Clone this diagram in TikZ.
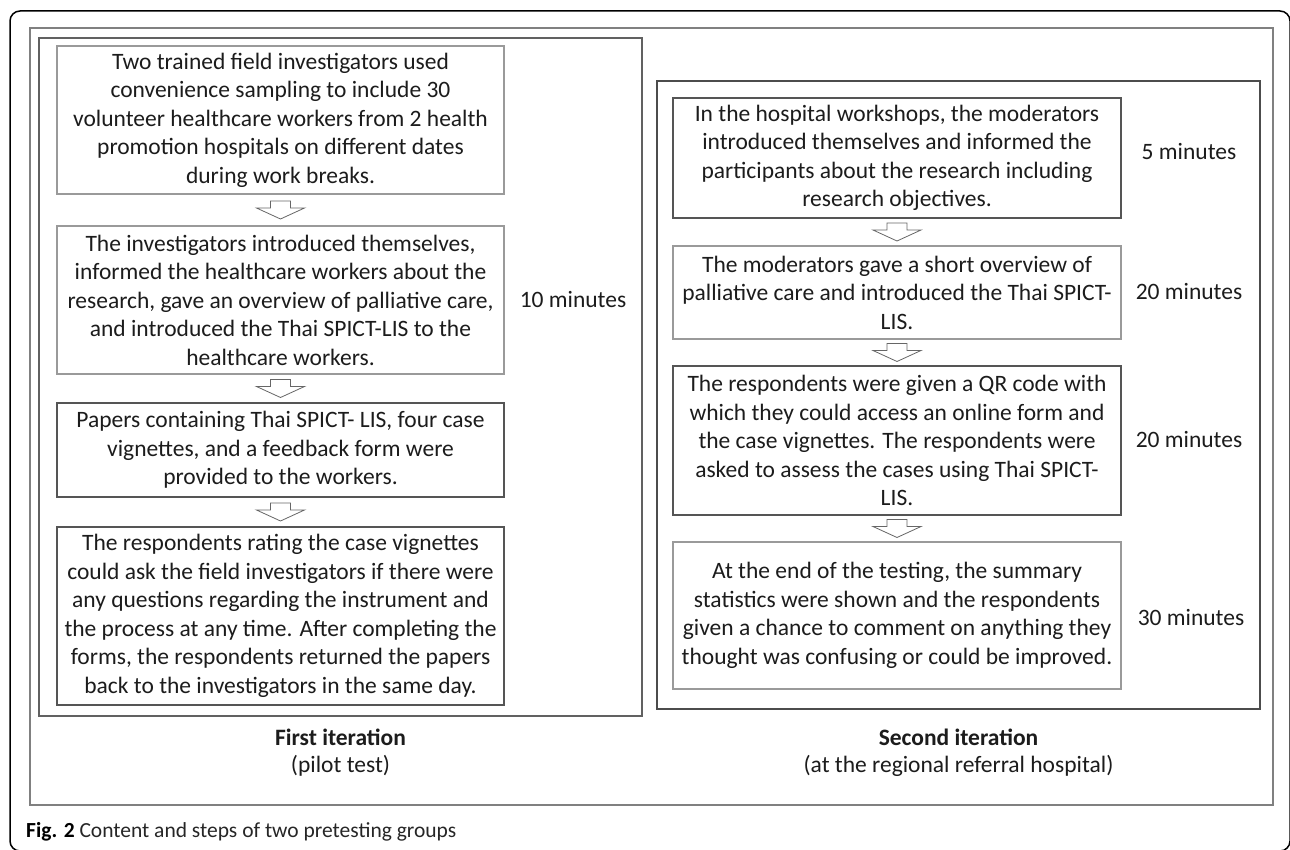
\documentclass[tikz,border=0pt]{standalone}
\usepackage{fontspec}
\setmainfont{Carlito}
\usetikzlibrary{calc}
\definecolor{txt}{HTML}{1C1C1C}
\definecolor{lightb}{HTML}{9A9A9A}
\definecolor{darkb}{HTML}{555555}
\newcommand{\blockdown}[3]{%
  \coordinate (#3) at ($(#1.south)!0.5!(#2.north)$);
  \draw[blockarrow] ($(#3)+(-10,-9)$) -- ($(#3)+(10,-9)$) -- ($(#3)+(10,-2)$) -- ($(#3)+(24,-2)$) -- ($(#3)+(0,9)$) -- ($(#3)+(-24,-2)$) -- ($(#3)+(-10,-2)$) -- cycle;}
\begin{document}
\begin{tikzpicture}[x=1pt,y=-1pt,
  stepbox/.style={draw=#1, line width=1.1pt, fill=white, align=center, inner sep=2pt,
    font=\fontsize{23.5}{28.5}\selectfont, text=txt},
  stepbox/.default=lightb,
  lbox/.style={stepbox=#1, minimum width=447pt},
  rbox/.style={stepbox=#1, minimum width=448pt},
  blockarrow/.style={draw=black!60, line width=0.8pt, fill=white},
  minutes/.style={font=\fontsize{23.5}{28.5}\selectfont, text=txt, inner sep=0pt},
  iterlab/.style={font=\fontsize{23.5}{27}\selectfont, text=txt, align=center, inner sep=0pt},
  panel/.style={draw=#1, line width=1.1pt}]
\useasboundingbox (0,0) rectangle (1290,850);
\clip (0,0) rectangle (1290,850);
\fill[white] (0,0) rectangle (1290,850);
% outer frames
\draw[black, line width=1.5pt, rounded corners=10pt] (10,11) rectangle (1290,851);
\draw[black!50, line width=1.5pt] (30,28) rectangle (1273,805);
\draw[panel=black!62] (39,38) rectangle (642,716);
\draw[panel=black!70] (657,81) rectangle (1260,709);
% left column
\node[lbox=lightb, minimum height=148pt] (l1) at (280.5,120) {Two trained field investigators used\\convenience sampling to include 30\\volunteer healthcare workers from 2 health\\promotion hospitals on different dates\\during work breaks.};
\node[lbox=lightb, minimum height=148pt] (l2) at (280.5,300) {The investigators introduced themselves,\\informed the healthcare workers about the\\research, gave an overview of palliative care,\\and introduced the Thai SPICT-LIS to the\\healthcare workers.};
\node[lbox=darkb, minimum height=94pt] (l3) at (280.5,450) {Papers containing Thai SPICT- LIS, four case\\vignettes, and a feedback form were\\provided to the workers.};
\node[lbox=darkb, minimum height=178pt] (l4) at (280.5,616) {The respondents rating the case vignettes\\could ask the field investigators if there were\\any questions regarding the instrument and\\the process at any time. After completing the\\forms, the respondents returned the papers\\back to the investigators in the same day.};
\blockdown{l1}{l2}{a1}
\blockdown{l2}{l3}{a2}
\blockdown{l3}{l4}{a3}
\node[minutes] (m1) at (573,300) {10 minutes};
% right column
\node[rbox=darkb, minimum height=120pt] (r1) at (897,158) {In the hospital workshops, the moderators\\introduced themselves and informed the\\participants about the research including\\research objectives.};
\node[rbox=lightb, minimum height=93pt] (r2) at (897,292.5) {The moderators gave a short overview of\\palliative care and introduced the Thai SPICT-\\LIS.};
\node[rbox=darkb, minimum height=149pt] (r3) at (897,440.5) {The respondents were given a QR code with\\which they could access an online form and\\the case vignettes. The respondents were\\asked to assess the cases using Thai SPICT-\\LIS.};
\node[rbox=lightb, minimum height=147pt] (r4) at (897,615.5) {At the end of the testing, the summary\\statistics were shown and the respondents\\given a chance to comment on anything they\\thought was confusing or could be improved.};
\blockdown{r1}{r2}{b1}
\blockdown{r2}{r3}{b2}
\blockdown{r3}{r4}{b3}
\node[minutes] (m2) at (1189,152) {5 minutes};
\node[minutes] (m3) at (1189,292) {20 minutes};
\node[minutes] (m4) at (1189,440) {20 minutes};
\node[minutes] (m5) at (1191,617) {30 minutes};
% iteration labels
\node[iterlab] (it1) at (340.5,753) {\textbf{First iteration}\\(pilot test)};
\node[iterlab] (it2) at (958.5,753) {\textbf{Second iteration}\\(at the regional referral hospital)};
% caption
\node[anchor=west, inner sep=0pt, font=\fontsize{21.5}{24}\selectfont, text=black!85] (cap) at (26,832) {\textbf{\color{black}Fig. 2} Content and steps of two pretesting groups};
\end{tikzpicture}
\end{document}
